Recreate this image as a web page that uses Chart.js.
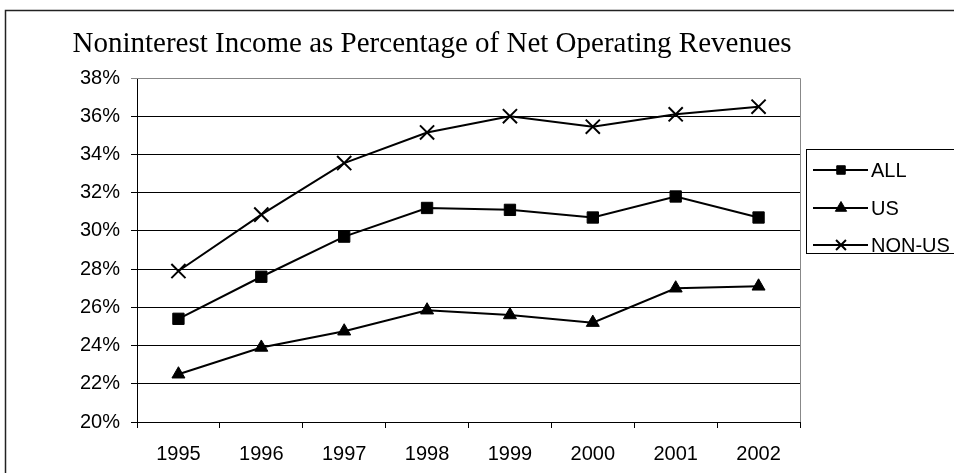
<!DOCTYPE html>
<html>
<head>
<meta charset="utf-8">
<script src="https://cdn.jsdelivr.net/npm/chart.js@4/dist/chart.umd.min.js"></script>
<style>
  html, body { margin: 0; padding: 0; background: #fff; }
  #wrap { width: 954px; height: 473px; }
</style>
</head>
<body>
<div id="wrap"><canvas id="myChart" width="954" height="473"></canvas></div>
<script>
// ---- data ----
var years = ["1995", "1996", "1997", "1998", "1999", "2000", "2001", "2002"];
var allValues = [25.4, 27.6, 29.7, 31.2, 31.1, 30.7, 31.8, 30.7];
var usValues = [22.5, 23.9, 24.75, 25.85, 25.6, 25.2, 27.0, 27.1];
var nonUsValues = [27.9, 30.85, 33.55, 35.15, 36.0, 35.45, 36.1, 36.5];
var seriesNames = ["ALL", "US", "NON-US"];
var yMin = 20, yMax = 38, yStep = 2;
var chartTitle = "Noninterest Income as Percentage of Net Operating Revenues";

var sans = "'Liberation Sans', Arial, sans-serif";
var serif = "'Liberation Serif', 'Times New Roman', serif";

// legend markers are drawn a bit smaller than the ones on the lines
var legendRadius = [6, 6.5, 7];

// frame, title, plot border and the boxed legend on the right
var decorPlugin = {
    id: "decor",
    beforeDraw: function(chart){
        var ctx = chart.ctx;
        ctx.save();
        ctx.fillStyle = "#fff";
        ctx.fillRect(0, 0, chart.width, chart.height);
        ctx.strokeStyle = "#222";
        ctx.lineWidth = 1.5;
        ctx.beginPath();
        ctx.moveTo(5.5, chart.height + 5);
        ctx.lineTo(5.5, 10.5);
        ctx.lineTo(chart.width + 5, 10.5);
        ctx.stroke();
        ctx.restore();
    },
    beforeDatasetsDraw: function(chart){
        var ctx = chart.ctx, a = chart.chartArea;
        ctx.save();
        ctx.strokeStyle = "#888";
        ctx.lineWidth = 1;
        ctx.beginPath();
        ctx.moveTo(a.left, a.top + 0.5);
        ctx.lineTo(a.right + 0.5, a.top + 0.5);
        ctx.lineTo(a.right + 0.5, a.bottom);
        ctx.stroke();
        ctx.restore();
    },
    afterDraw: function(chart){
        var ctx = chart.ctx;
        ctx.save();
        // title
        ctx.fillStyle = "#000";
        ctx.font = "29px " + serif;
        ctx.textAlign = "center";
        ctx.textBaseline = "middle";
        ctx.fillText(chartTitle, 432, 44);
        // legend box
        ctx.strokeStyle = "#000";
        ctx.lineWidth = 1;
        ctx.strokeRect(806.5, 149.5, 200, 104);
        var rowY = [170, 208, 245];
        chart.data.datasets.forEach(function(ds, i){
            var y = rowY[i];
            ctx.strokeStyle = ds.borderColor;
            ctx.lineWidth = ds.borderWidth;
            ctx.beginPath();
            ctx.moveTo(813, y);
            ctx.lineTo(868, y);
            ctx.stroke();
            ctx.fillStyle = ds.pointBackgroundColor;
            ctx.strokeStyle = ds.pointBorderColor;
            ctx.lineWidth = ds.pointBorderWidth;
            Chart.helpers.drawPoint(ctx, {
                pointStyle: ds.pointStyle,
                radius: legendRadius[i],
                rotation: 0,
                borderWidth: ds.pointBorderWidth
            }, 841, y);
            ctx.fillStyle = "#000";
            ctx.font = "20px " + sans;
            ctx.textAlign = "left";
            ctx.textBaseline = "middle";
            ctx.fillText(ds.label, 871, y + 1);
        });
        ctx.restore();
    }
};

function makeSet(label, values, style, radius, bw){
    return {
        label: label,
        data: values,
        borderColor: "#000",
        borderWidth: 2,
        fill: false,
        tension: 0,
        pointStyle: style,
        pointRadius: radius,
        pointHoverRadius: radius,
        pointBackgroundColor: "#000",
        pointBorderColor: "#000",
        pointBorderWidth: bw
    };
}

new Chart("myChart", {
    type: "line",
    data: {
        labels: years,
        datasets: [
            makeSet(seriesNames[0], allValues, "rect", 8, 1),
            makeSet(seriesNames[1], usValues, "triangle", 7.5, 1),
            makeSet(seriesNames[2], nonUsValues, "crossRot", 10, 2)
        ]
    },
    plugins: [decorPlugin],
    options: {
        responsive: false,
        animation: false,
        devicePixelRatio: 1,
        layout: { padding: { left: 0, top: 78, right: 154, bottom: 0 } },
        plugins: {
            legend: { display: false },
            title: { display: false },
            tooltip: { enabled: false }
        },
        scales: {
            x: {
                offset: true,
                afterFit: function(scale){ scale.height = 51; },
                grid: {
                    offset: true,
                    drawOnChartArea: false,
                    tickLength: 6,
                    color: "#000"
                },
                border: { color: "#000", width: 1 },
                ticks: {
                    color: "#000",
                    padding: 14,
                    maxRotation: 0,
                    font: { family: sans, size: 20 }
                }
            },
            y: {
                min: yMin,
                max: yMax,
                afterFit: function(scale){ scale.width = 137; },
                grid: {
                    tickLength: 6,
                    color: function(c){ return c.tick && c.tick.value === yMax ? "#888" : "#000"; }
                },
                border: { color: "#000", width: 1 },
                ticks: {
                    stepSize: yStep,
                    color: "#000",
                    padding: 11,
                    font: { family: sans, size: 20 },
                    callback: function(v){ return v + "%"; }
                }
            }
        }
    }
});
</script>
</body>
</html>
